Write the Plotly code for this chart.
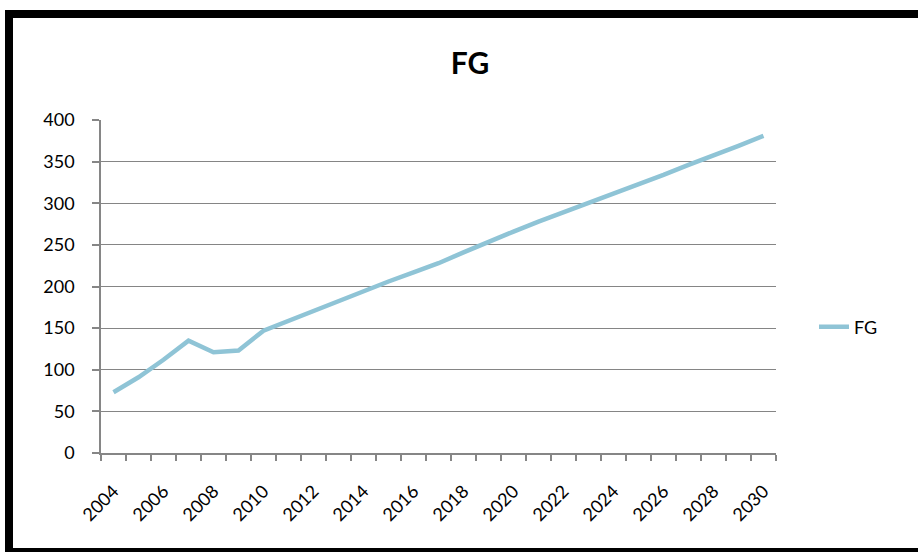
import plotly.graph_objects as go

years = list(range(2004, 2031))
fg_values = [73, 91, 112, 135, 121, 123, 147, 159, 171, 183, 195, 206, 217, 228,
             241, 254, 266, 278, 289, 300, 311, 322, 334, 346, 357, 369, 381]
tick_years = list(range(2004, 2031, 2))
tick_labels = [str(y) for y in tick_years]
y_ticks = list(range(0, 401, 50))

W, H = 918, 552
L, R, T, B = 101, 776, 120, 453  # plot area in px

def px_x(px):
    return (px - L) / (R - L)

def px_y(py):
    return (B - py) / (B - T)

fig = go.Figure()
fig.add_trace(go.Scatter(
    x=years, y=fg_values, mode="lines", name="FG",
    line=dict(color="#8FC4D6", width=4.5),
))

font_family = "Lato, Open Sans, Liberation Sans, sans-serif"

fig.update_layout(
    width=W, height=H,
    margin=dict(l=L, r=W - R, t=T, b=H - B, pad=0),
    paper_bgcolor="white", plot_bgcolor="white",
    font=dict(family=font_family, size=18, color="#000000"),
    title=dict(text="<b>FG</b>", x=px_x(470), xref="paper", xanchor="center",
               y=1 - 63 / H, yref="container", yanchor="middle",
               font=dict(size=30, color="#000000", family=font_family)),
    showlegend=True,
    legend=dict(x=px_x(814), y=px_y(327), xanchor="left", yanchor="middle",
                xref="paper", yref="paper", bgcolor="rgba(0,0,0,0)",
                font=dict(size=18, color="#000000")),
    xaxis=dict(
        range=[2003.5, 2030.5], tickmode="array", tickvals=tick_years,
        ticktext=tick_labels, tickangle=-45, ticks="", showgrid=False,
        showline=True, linecolor="#868686", linewidth=1.5,
        ticklabelstandoff=19, zeroline=False,
        minor=dict(ticks="outside", tick0=2003.5, dtick=1, ticklen=6,
                   tickcolor="#868686", tickwidth=1.5, showgrid=False),
        tickfont=dict(size=18),
    ),
    yaxis=dict(
        range=[0, 400], tickmode="array", tickvals=y_ticks,
        ticks="outside", ticklen=7, tickcolor="#868686", tickwidth=1.5,
        showgrid=True, gridcolor="#858585", gridwidth=1.3,
        showline=True, linecolor="#868686", linewidth=1.5, zeroline=False,
        ticklabelstandoff=14, tickfont=dict(size=18),
    ),
    shapes=[
        dict(type="rect", xref="paper", yref="paper",
             x0=px_x(9), x1=px_x(930), y0=px_y(14), y1=px_y(552),
             line=dict(color="black", width=8), fillcolor="rgba(0,0,0,0)",
             layer="above"),
    ],
)

fig.write_html("out.html", config={"displayModeBar": False},
               post_script="document.body.style.margin='0';document.body.style.overflow='hidden';")
